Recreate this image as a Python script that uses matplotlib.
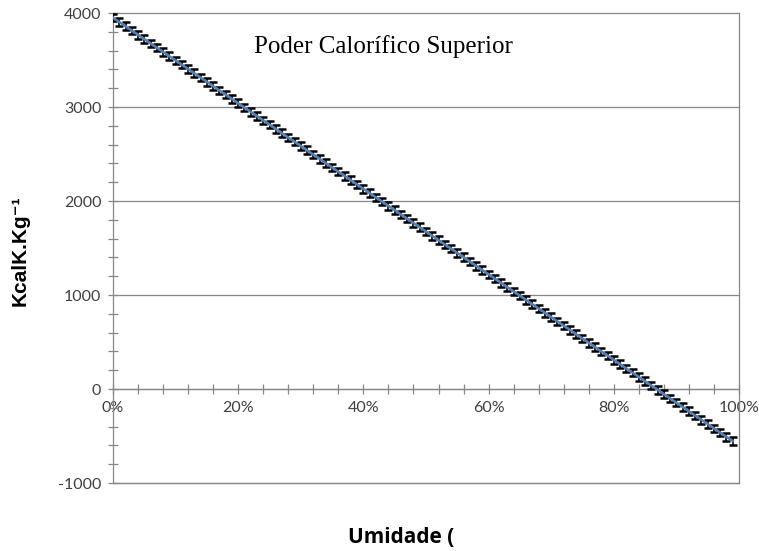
import numpy as np
import matplotlib.pyplot as plt
from matplotlib.ticker import MultipleLocator, FuncFormatter

# umidade (%) e poder calorifico (kcal/kg)
umidade_pct = list(range(100))
pcs = [3950, 3905, 3859, 3814, 3768, 3723, 3677, 3632, 3586, 3541,
       3495, 3450, 3404, 3359, 3313, 3268, 3222, 3177, 3131, 3086,
       3040, 2995, 2949, 2904, 2858, 2813, 2767, 2722, 2676, 2631,
       2585, 2540, 2494, 2449, 2403, 2358, 2312, 2267, 2221, 2176,
       2130, 2085, 2039, 1994, 1948, 1903, 1857, 1812, 1766, 1721,
       1675, 1630, 1584, 1539, 1493, 1448, 1402, 1357, 1311, 1266,
       1220, 1175, 1129, 1084, 1038, 993, 947, 902, 856, 811,
       765, 720, 674, 629, 583, 538, 492, 447, 401, 356,
       310, 265, 219, 174, 128, 83, 37, -8, -54, -99,
       -145, -190, -236, -281, -327, -372, -418, -463, -509, -554]
erro = 40
titulo = 'Poder Calorífico Superior'

plt.rcParams['font.family'] = ['Lato', 'DejaVu Sans']
plt.rcParams['axes.unicode_minus'] = False

fig = plt.figure(figsize=(7.59, 5.51), dpi=100)
ax = fig.add_axes([0.1489, 0.1234, 0.8247, 0.853])

x = np.array(umidade_pct) / 100.0
ax.errorbar(x, pcs, yerr=erro, fmt='none', ecolor='black', elinewidth=1.2,
            capsize=3.2, capthick=1.8, zorder=3)
ax.plot(x, pcs, color='#4F81BD', lw=1.8, zorder=4)

ax.set_xlim(0, 1)
ax.set_ylim(-1000, 4000)

gray = '#878787'
ax.yaxis.grid(True, color=gray, lw=0.9, clip_on=False)
ax.set_axisbelow(True)
ax.spines['bottom'].set_position(('data', 0))
for s in ['left', 'bottom', 'right']:
    ax.spines[s].set_color(gray)
    ax.spines[s].set_linewidth(0.9)
ax.spines['top'].set_visible(False)
# linha de grade inferior (-1000)
ax.axhline(-1000, color=gray, lw=0.9, clip_on=False, zorder=1)

ax.xaxis.set_major_locator(MultipleLocator(0.2))
ax.xaxis.set_minor_locator(MultipleLocator(0.04))
ax.yaxis.set_major_locator(MultipleLocator(1000))
ax.yaxis.set_minor_locator(MultipleLocator(200))
ax.xaxis.set_major_formatter(FuncFormatter(lambda v, p: f'{v * 100:.0f}%'))
ax.tick_params(which='both', direction='inout', length=7, width=0.9,
               color=gray, labelsize=11.5, labelcolor='#404040')
ax.tick_params(axis='x', pad=5)
ax.tick_params(axis='y', pad=5)

fig.text(0.027, 0.545, 'KcalK.Kg⁻¹', rotation=90, ha='center', va='center',
         family=['Liberation Sans', 'DejaVu Sans'], fontsize=15,
         fontweight='bold')
fig.text(0.528, 0.024, 'Umidade (', ha='center', va='center',
         family=['Open Sans', 'DejaVu Sans'], fontsize=15, fontweight='bold')
ax.text(0.226, 0.953, titulo, transform=ax.transAxes, ha='left', va='top',
        family='Liberation Serif', fontsize=18)

fig.savefig('out.png', dpi=100)
